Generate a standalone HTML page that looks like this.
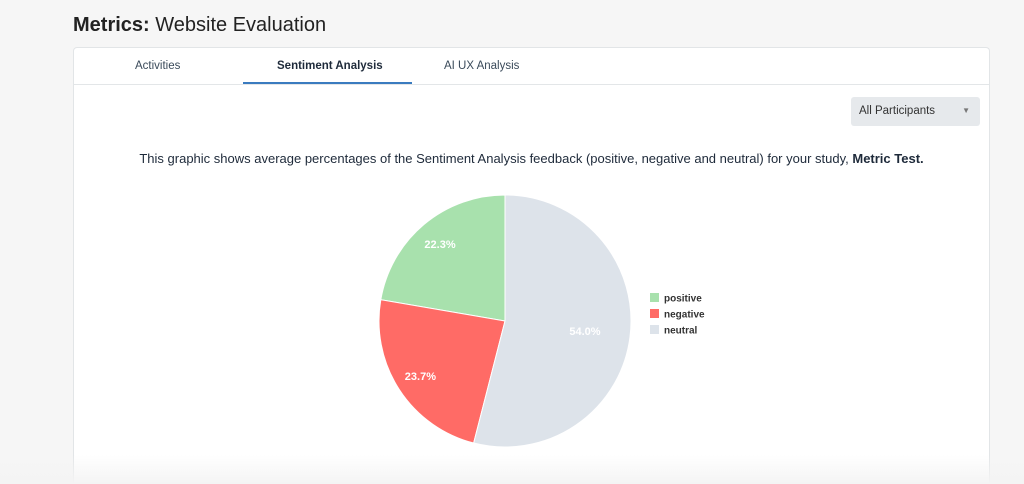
<!DOCTYPE html>
<html style="overflow:hidden"><head><meta charset="utf-8"><style>
html,body{overflow:hidden}
body{margin:0;width:1024px;height:484px;background:#f6f6f6;font-family:"Liberation Sans",sans-serif;position:relative}
.title{position:absolute;left:73px;top:14px;font-size:20px;color:#222}
.card{position:absolute;left:73px;top:47px;width:915px;height:437px;background:#fff;border:1px solid #e2e5e7;border-bottom:none;border-radius:4px 4px 0 0}
.tabs{position:absolute;left:0;top:0;width:915px;height:36px;border-bottom:1px solid #e3e6e8}
.tab{position:absolute;top:12px;font-size:11.5px;color:#3a4a5a}
.dd{position:absolute;left:777px;top:49px;width:129px;height:29px;background:#e6e9ec;border-radius:3px;font-size:11.5px;color:#333}
.desc{position:absolute;left:0;width:915px;top:103px;text-align:center;font-size:13px;color:#1e2a3a}
.fade{position:absolute;left:0;top:455px;width:1024px;height:29px;background:linear-gradient(#fff0,#f4f4f4)}
</style></head><body>
<div class="title"><b>Metrics:</b> Website Evaluation</div>
<div class="card">
 <div class="tabs">
  <div class="tab" style="left:61px">Activities</div>
  <div class="tab" style="left:203px;font-weight:bold;color:#1e2a3a">Sentiment Analysis</div>
  <div style="position:absolute;left:169px;top:34px;width:169px;height:2px;background:#3a7bbf"></div>
  <div class="tab" style="left:370px">AI UX Analysis</div>
 </div>
 <div class="dd"><span style="position:absolute;left:8px;top:8px">All Participants</span><span style="position:absolute;right:10px;top:9px;font-size:8px;color:#777">▼</span></div>
 <div class="desc">This graphic shows average percentages of the Sentiment Analysis feedback (positive, negative and neutral) for your study, <b>Metric Test.</b></div>
</div>
<svg id="pie" width="1024" height="484" style="position:absolute;left:0;top:0"></svg>
<div class="fade"></div>
<script>
const categories=["positive","negative","neutral"];
const values=[22.3,23.7,54.0];
const colors=["#a8e1ad","#ff6b66","#dde3ea"];
const cx=505,cy=321,r=126;
const svg=document.getElementById('pie');
const NS="http://www.w3.org/2000/svg";
const total=values.reduce((a,b)=>a+b,0);
let a0=0;
function pt(a,rr){return [cx-rr*Math.sin(a),cy-rr*Math.cos(a)];}
values.forEach((v,i)=>{
 const a1=a0+v/total*2*Math.PI;
 const p0=pt(a0,r),p1=pt(a1,r);
 const large=(a1-a0)>Math.PI?1:0;
 const p=document.createElementNS(NS,'path');
 p.setAttribute('d',`M${cx},${cy}L${p0[0]},${p0[1]}A${r},${r} 0 ${large} 0 ${p1[0]},${p1[1]}Z`);
 p.setAttribute('fill',colors[i]);p.setAttribute('stroke','#fff');p.setAttribute('stroke-width','1');
 
 
 svg.appendChild(p);
 const m=(a0+a1)/2,lp=pt(m,r*(v>50?0.64:0.8));
 const t=document.createElementNS(NS,'text');
 t.setAttribute('x',lp[0]);t.setAttribute('y',lp[1]+4);t.setAttribute('text-anchor','middle');
 t.setAttribute('font-size','11');t.setAttribute('font-weight','bold');t.setAttribute('fill','#fff');
 t.textContent=v.toFixed(1)+'%';
 
 
 svg.appendChild(t);
 const ly=298+i*16;
 const sq=document.createElementNS(NS,'rect');
 sq.setAttribute('x',650);sq.setAttribute('y',ly-5);sq.setAttribute('width',9);sq.setAttribute('height',9);sq.setAttribute('fill',colors[i]);
 
 
 svg.appendChild(sq);
 const lt=document.createElementNS(NS,'text');
 lt.setAttribute('x',664);lt.setAttribute('y',ly+3.5);lt.setAttribute('font-size','10');lt.setAttribute('font-weight','bold');lt.setAttribute('fill','#333');
 lt.textContent=categories[i];
 
 
 svg.appendChild(lt);
 a0=a1;
});
</script>
</body></html>
